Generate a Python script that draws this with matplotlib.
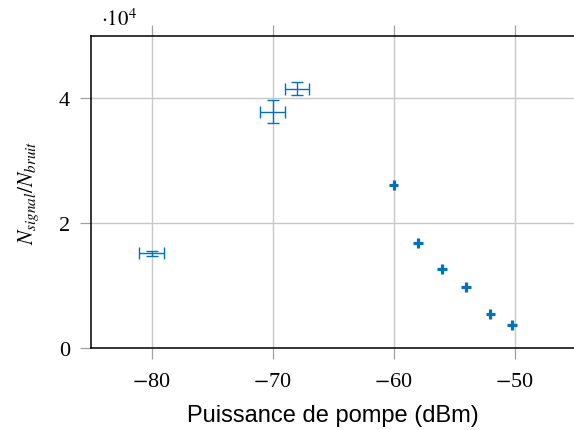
import matplotlib

matplotlib.use("Agg")
import matplotlib.pyplot as plt
import numpy as np

# pump power (dBm) and signal/noise ratio (in units of 1e4)
puissance = [-80, -70, -68, -60, -58, -56, -54, -52, -50.2]
rapport = [1.52, 3.79, 4.155, 2.61, 1.675, 1.264, 0.98, 0.549, 0.368]
err_puissance = [1.0, 1.0, 1.0, 0.4, 0.4, 0.4, 0.4, 0.4, 0.4]
err_rapport = [0.04, 0.19, 0.1, 0.08, 0.08, 0.08, 0.08, 0.08, 0.08]

x_ticks = [-80, -70, -60, -50]
y_ticks = [0, 2, 4]

BLUE = "#0072BD"

plt.rcParams["mathtext.fontset"] = "stix"
plt.rcParams["font.family"] = ["Liberation Serif", "DejaVu Serif"]

fig = plt.figure(figsize=(5.74, 4.31), dpi=100)
ax = fig.add_axes([91 / 574, 1 - 349 / 431, 1.002 - 91 / 574, (349 - 37) / 431])

x = np.array(puissance)
y = np.array(rapport)
xe = np.array(err_puissance)
ye = np.array(err_rapport)

# the three first points have visible caps, the others look like bold crosses
big = slice(0, 3)
small = slice(3, None)
ax.errorbar(x[big], y[big], xerr=xe[big], yerr=ye[big], fmt="none",
            ecolor=BLUE, elinewidth=1.0, capsize=4.0, capthick=1.0, zorder=3)
ax.errorbar(x[small], y[small], xerr=xe[small], yerr=ye[small], fmt="none",
            ecolor=BLUE, elinewidth=2.3, capsize=0, zorder=3)

ax.set_xlim(-85, -45)
ax.set_ylim(0, 5)
ax.set_xticks(x_ticks)
ax.set_yticks(y_ticks)
ax.set_xticklabels([f"$-${abs(v)}" for v in x_ticks])
ax.grid(True, color="#c8c8c8", linewidth=1.0, zorder=0)
ax.set_axisbelow(True)

ax.tick_params(axis="both", direction="out", length=8, width=0.9, color="#a0a0a0",
               labelsize=16, top=True, labeltop=False)
ax.tick_params(axis="x", pad=9)
ax.tick_params(axis="y", pad=7)
for s in ax.spines.values():
    s.set_linewidth(1.1)
    s.set_color("black")

ax.set_xlabel("Puissance de pompe (dBm)", family="Liberation Sans", fontsize=17, labelpad=9.5)
ax.set_ylabel(r"$N_{signal}/N_{bruit}$", fontsize=15.5, labelpad=13)
ax.text(0.02, 1.02, r"$\cdot 10^4$", transform=ax.transAxes, fontsize=15,
        ha="left", va="bottom")

fig.savefig("out.png", dpi=100)
